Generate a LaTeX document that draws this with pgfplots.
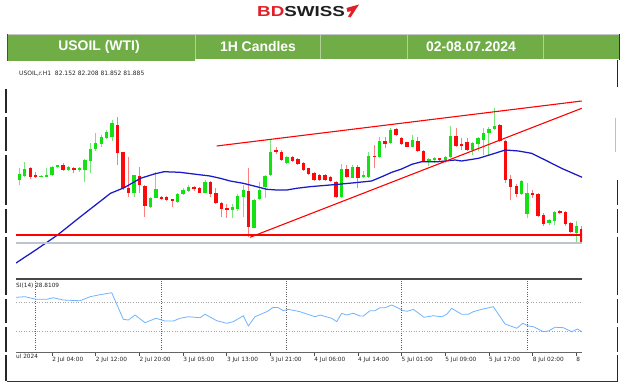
\documentclass[border=0pt]{standalone}
\usepackage{pgfplots}
\pgfplotsset{compat=1.18}
\usepackage{pgfplotstable}
\usepackage{fontspec}
\usepackage{graphicx}
\setmainfont{Liberation Sans}
\newfontfamily\mt{DejaVu Sans}

\definecolor{hdrgreen}{RGB}{112,173,71}
\definecolor{bdred}{RGB}{226,30,38}
\definecolor{cgreen}{RGB}{20,225,20}
\definecolor{cgreenw}{RGB}{120,230,120}
\definecolor{cred}{RGB}{250,10,10}
\definecolor{credw}{RGB}{255,125,125}
\definecolor{mablue}{RGB}{25,25,200}
\definecolor{rsiblue}{RGB}{110,180,255}
\definecolor{sepgray}{RGB}{95,95,95}
\definecolor{lvlgray}{RGB}{165,165,165}
\definecolor{bidgray}{RGB}{188,196,204}

\pgfplotstableread{
i O H L C
-3 83.125 83.358 83.025 83.245
-2 83.205 83.492 83.178 83.338
1 83.192 83.225 83.178 83.205
2 83.192 83.358 83.178 83.232
3 83.225 83.405 83.205 83.392
4 83.378 83.432 83.365 83.418
6 83.325 83.405 83.305 83.378
8 83.325 83.392 83.292 83.358
9 83.325 83.538 83.092 83.525
10 83.512 83.858 83.258 83.745
11 83.738 84.058 83.712 83.858
12 83.838 84.025 83.792 83.992
13 83.972 84.125 83.938 84.092
14 83.992 84.325 83.905 84.258
18 82.872 83.225 82.792 83.225
21 82.592 82.792 82.558 82.772
22 82.772 83.292 82.758 82.938
26 82.692 82.858 82.672 82.845
27 82.845 82.958 82.825 82.925
28 82.912 83.025 82.892 82.992
31 82.872 83.125 82.858 83.092
36 82.525 82.645 82.358 82.578
37 82.538 82.838 82.512 82.812
38 82.792 83.025 82.392 82.925
40 82.172 82.738 82.158 82.725
41 82.738 83.092 82.725 82.925
42 82.978 83.225 82.758 83.212
43 83.225 83.925 83.205 83.692
46 83.472 83.605 83.445 83.578
56 82.792 83.438 82.772 83.345
58 83.172 83.425 83.158 83.392
60 83.192 83.305 83.158 83.225
61 83.192 83.678 83.172 83.605
63 83.592 83.992 83.572 83.905
65 83.858 84.158 83.838 84.125
69 83.792 84.025 83.778 83.925
72 83.492 83.572 83.412 83.545
73 83.525 83.585 83.458 83.558
75 83.525 83.612 83.458 83.592
76 83.592 84.212 83.572 84.012
80 83.725 83.892 83.625 83.858
81 83.838 83.992 83.705 83.958
82 83.925 84.172 83.625 84.058
83 84.058 84.192 83.612 84.138
84 84.145 84.572 84.125 84.212
89 82.838 83.125 82.825 83.105
90 82.438 83.058 82.358 82.858
94 82.258 82.345 82.225 82.325
95 82.305 82.505 82.225 82.478
99 82.072 82.305 81.892 82.205
}\greenT

\pgfplotstableread{
i O H L C
-1 83.358 83.392 83.145 83.192
0 83.225 83.292 83.158 83.192
5 83.425 83.458 83.305 83.325
7 83.358 83.392 83.272 83.325
15 84.225 84.378 83.425 83.672
16 83.678 83.692 82.925 82.958
17 82.958 83.592 82.792 82.872
19 83.205 83.392 82.858 83.025
20 83.012 83.025 82.392 82.605
23 82.785 82.810 82.725 82.755
24 82.792 82.800 82.710 82.725
25 82.738 82.738 82.592 82.712
29 82.978 83.005 82.912 82.938
30 82.965 82.978 82.858 82.872
32 83.092 83.105 82.792 82.838
33 82.858 82.958 82.645 82.672
34 82.658 82.692 82.378 82.538
35 82.572 82.645 82.358 82.525
39 82.912 83.358 81.978 82.178
44 83.725 83.792 83.645 83.692
45 83.692 83.725 83.512 83.525
47 83.578 83.600 83.490 83.512
48 83.538 83.560 83.430 83.445
49 83.472 83.490 83.310 83.325
50 83.358 83.370 83.230 83.245
51 83.258 83.292 83.105 83.125
52 83.225 83.240 83.110 83.125
53 83.225 83.238 83.105 83.125
54 83.192 83.210 83.090 83.105
55 83.078 83.105 82.772 82.792
57 83.345 83.425 83.172 83.192
59 83.392 83.425 82.972 83.172
62 83.612 83.825 83.358 83.592
64 83.912 83.992 83.758 83.838
66 84.145 84.158 84.012 84.025
67 83.972 83.992 83.825 83.838
68 83.878 83.890 83.780 83.792
70 83.905 83.992 83.692 83.705
71 83.705 83.725 83.492 83.505
74 83.558 83.570 83.500 83.525
77 84.012 84.158 83.792 83.812
78 83.838 83.958 83.725 83.812
79 83.892 83.958 83.705 83.725
85 84.225 84.238 83.892 83.905
86 83.905 83.925 83.058 83.125
87 83.145 83.225 82.725 82.992
88 83.012 83.038 82.792 82.838
91 82.858 82.925 82.758 82.825
92 82.845 82.858 82.392 82.412
93 82.425 82.458 82.212 82.238
96 82.505 82.525 82.438 82.478
97 82.492 82.505 82.212 82.238
98 82.258 82.292 82.072 82.092
100 82.152 82.208 81.852 81.885
}\redT

\pgfplotstableread{
i P
-3.61 81.465
0 81.725
4 82.025
8.2 82.391
13.7 82.859
16.2 82.971
19.2 83.159
21.7 83.245
23.5 83.291
26.4 83.279
28.9 83.245
31.9 83.205
33.8 83.159
35.6 83.105
38 83.059
40.5 82.991
42.3 82.939
44.1 82.925
46 82.925
47.8 82.959
50.2 82.991
52.4 83.011
55.4 83.039
58.5 83.071
61.5 83.105
63.4 83.191
65.2 83.279
67 83.345
68.9 83.439
70.7 83.491
73.7 83.491
76.8 83.525
78 83.505
81.1 83.559
83.5 83.639
86 83.725
88.4 83.705
90.8 83.659
93.3 83.525
96.3 83.359
100.05 83.180
}\maT

\pgfplotstableread{
i R
-3.61 77.0
-1.96 77.8
0.05 74.2
2.01 74.2
3.22 76.4
5.05 73.2
8.11 72.2
9.95 77.8
11.78 80.6
13.92 83.4
16.04 46.3
16.96 45.3
18.19 52.3
20.02 41.6
22.03 47.7
23.68 43.9
25.2 43.9
26.43 47.7
27.95 49.9
30.09 48.5
31.01 53.3
33.15 44.4
34.98 40.7
36.19 43.0
38.02 51.3
38.94 37.0
40.16 49.9
42.31 56.9
43.52 63.0
44.43 62.5
45.35 58.3
46.26 60.2
48.41 56.9
51.15 49.9
52.07 52.3
54.21 47.7
55.13 43.0
56.04 54.7
56.96 52.3
58.17 54.7
59.4 50.9
60.0 50.9
61.23 58.3
62.14 58.3
63.06 62.5
63.97 62.5
65.2 66.2
66.12 63.0
67.33 58.3
68.06 57.5
69.16 60.2
71.12 49.1
72.82 51.3
74.36 49.9
75.27 53.3
76.19 61.6
78.02 53.3
79.23 53.3
80.15 56.9
81.68 60.2
83.81 63.9
85.95 39.8
88.1 33.8
89.19 40.7
90.22 37.0
91.14 36.0
92.97 29.0
93.88 30.0
95.11 35.2
96.63 34.6
98.17 29.0
99.19 32.8
100.05 28.8
}\rsiT

\pgfplotsset{
  candlewick/.style={draw=none, mark=none, forget plot,
    error bars/.cd, y dir=both, y explicit, error mark=none,
    error bar style={draw=#1, line width=0.9bp}},
  candlebody/.style={draw=none, mark=none, forget plot,
    error bars/.cd, y dir=both, y explicit, error mark=none,
    error bar style={draw=#1, line width=3.4bp}},
}

\begin{document}
\begin{tikzpicture}
\path[use as bounding box, fill=white] (0,0) rectangle (624bp,388bp);

% ---------- header ----------
\begin{scope}[x=1bp,y=-1bp,yshift=388bp]
  \node[anchor=base west, inner sep=0pt, font=\bfseries\fontsize{14.5}{15}\selectfont] at (257,16.8)
     {\scalebox{1.3}[1]{\textcolor{bdred}{BD}\textcolor{black!88}{SWISS}}};
  \fill[bdred] (346.5,8) -- (359,4.5) -- (350.5,17.5) -- (348,16.5) -- (351.5,11) -- (347.5,12) -- cycle;
  \fill[hdrgreen] (7,34) rectangle (195,61.5);
  \fill[hdrgreen] (195,34) rectangle (620,59.5);
  \draw[white!45!hdrgreen, line width=0.5bp] (195,34) -- (195,59.5) (320,34) -- (320,59.5)
       (407,34) -- (407,59.5) (543,34) -- (543,59.5);
  \draw[black!22, line width=0.8bp] (7,34) -- (620,34);
  \draw[black!70, line width=1bp] (7,34) -- (7,61.5);
  \draw[black!80, line width=1.2bp] (619.5,34) -- (619.5,60);
  \node[text=white, font=\bfseries\fontsize{14}{15}\selectfont] at (99,47) {USOIL (WTI)};
  \node[text=white, font=\bfseries\fontsize{14}{15}\selectfont] at (258,47) {1H Candles};
  \node[text=white, font=\bfseries\fontsize{14}{15}\selectfont] at (471,47) {02-08.07.2024};
\end{scope}

% ---------- price panel ----------
\begin{axis}[at={(16bp,110bp)}, anchor=south west, scale only axis,
  width=566bp, height=207bp,
  xmin=-3.61, xmax=100.05, ymin=81.165, ymax=85.305,
  axis line style={draw=none}, xtick=\empty, ytick=\empty,
  minor xtick={0,23,46,67,90}, xminorgrids=true, minor tick length=0pt,
  minor grid style={sepgray, line width=0.8bp, dash pattern=on 1bp off 1.3bp}]
  \addplot[candlewick=cgreenw] table[x=i, y expr={(\thisrow{H}+\thisrow{L})/2},
      y error expr={(\thisrow{H}-\thisrow{L})/2}] {\greenT};
  \addplot[candlewick=credw] table[x=i, y expr={(\thisrow{H}+\thisrow{L})/2},
      y error expr={(\thisrow{H}-\thisrow{L})/2}] {\redT};
  \addplot[candlebody=cgreen] table[x=i, y expr={(\thisrow{O}+\thisrow{C})/2},
      y error expr={max(abs(\thisrow{C}-\thisrow{O})/2,0.011)}] {\greenT};
  \addplot[candlebody=cred] table[x=i, y expr={(\thisrow{O}+\thisrow{C})/2},
      y error expr={max(abs(\thisrow{C}-\thisrow{O})/2,0.011)}] {\redT};
  \addplot[mablue, line width=1.25bp, line join=round] table[x=i, y=P] {\maT};
  \addplot[bidgray, line width=1.4bp] coordinates {(-3.61,81.865) (100.05,81.865)};
  \addplot[red, line width=1.8bp] coordinates {(-3.61,82.025) (100.05,82.025)};
  \addplot[red, line width=1.1bp] coordinates {(33.15,83.805) (100,84.705)};
  \addplot[red, line width=1.1bp] coordinates {(39.25,81.979) (100,84.559)};
\end{axis}

% ---------- RSI panel ----------
\begin{axis}[at={(16bp,35.5bp)}, anchor=south west, scale only axis,
  width=566bp, height=71.7bp,
  xmin=-3.61, xmax=100.05, ymin=0, ymax=100,
  axis line style={draw=none},
  ytick={30,70}, yticklabels={}, ymajorgrids=true, ytick style={draw=none},
  major grid style={lvlgray, line width=0.7bp, dash pattern=on 1bp off 1.6bp},
  minor xtick={0,23,46,67,90}, xminorgrids=true, minor tick length=0pt,
  minor grid style={sepgray, line width=0.8bp, dash pattern=on 1bp off 1.3bp},
  xtick={3,11,19,27,35,43,51,59,67,75,83,91,99},
  xticklabels={2 Jul 04:00,2 Jul 12:00,2 Jul 20:00,3 Jul 05:00,3 Jul 13:00,3 Jul 21:00,
    4 Jul 06:00,4 Jul 14:00,5 Jul 01:00,5 Jul 09:00,5 Jul 17:00,8 Jul 02:00,8},
  extra x ticks={-3.61}, extra x tick labels={ul 2024},
  extra x tick style={major tick length=0pt},
  xtick pos=bottom, tick align=outside, major tick length=3.5bp,
  xtick style={draw=black!70, line width=0.7bp},
  xticklabel style={anchor=north west, inner sep=0pt, text=black!85,
    font=\mt\fontsize{5.8}{6}\selectfont},
  xticklabel shift=1bp]
  \addplot[rsiblue, line width=0.8bp, line join=round] table[x=i, y=R] {\rsiT};
\end{axis}

% ---------- overlays / frame ----------
\begin{scope}[x=1bp,y=-1bp,yshift=388bp]
  \node[anchor=west, inner sep=0pt, text=black!85, font=\mt\fontsize{6}{6}\selectfont]
     at (19,73.3) {USOIL,r.H1\ \ 82.152 82.208 81.852 81.885};
  \node[anchor=west, inner sep=0pt, text=black!85, font=\mt\fontsize{5.8}{6}\selectfont]
     at (16,285.7) {SI(14) 28.8109};
  \draw[black!72, line width=2bp] (16,279) -- (582,279);
  \draw[black!60, line width=0.8bp] (16,352.7) -- (582,352.7);
  \draw[black!80, line width=1.2bp] (7,381.7) -- (617.5,381.7);
  \foreach \a/\b in {89/113,117/151,155/205,209/233,237/295,299/323,327/352,355/381}
     {\draw[black!85, line width=1.2bp] (6,\a) -- (6,\b);}
  \foreach \a/\b in {60/87,180/205,209/233,237/295,299/323,327/352,355/381.7}
     {\draw[black!85, line width=1.2bp] (617.5,\a) -- (617.5,\b);}
  \draw[black!25, line width=0.8bp] (615.5,118) -- (615.5,152);
\end{scope}
\end{tikzpicture}
\end{document}
